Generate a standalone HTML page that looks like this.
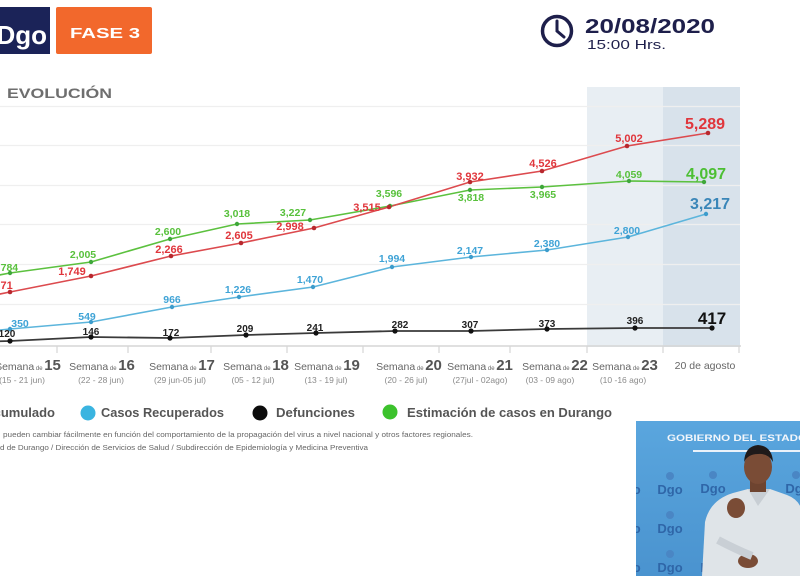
<!DOCTYPE html>
<html><head><meta charset="utf-8">
<style>
html,body{margin:0;padding:0;background:#fff;}
svg{display:block;}
text{font-family:"Liberation Sans",sans-serif;}
</style></head>
<body>
<svg width="800" height="576" viewBox="0 0 800 576" xmlns="http://www.w3.org/2000/svg">
<rect x="0" y="0" width="800" height="576" fill="#ffffff"/>

<!-- Header -->
<rect x="0" y="7" width="50" height="47" fill="#1b2358"/>
<text x="47" y="44" font-size="26" font-weight="bold" fill="#ffffff" text-anchor="end">Dgo</text>
<rect x="56" y="7" width="96" height="47" rx="2" fill="#f2682c"/>
<text x="70" y="38" font-size="15" font-weight="bold" fill="#ffffff" textLength="70" lengthAdjust="spacingAndGlyphs">FASE 3</text>

<circle cx="557" cy="31" r="14.5" fill="none" stroke="#1e1f4b" stroke-width="3.5"/>
<polyline points="557,21 557,31 564,37" fill="none" stroke="#1e1f4b" stroke-width="3" stroke-linecap="round"/>
<text x="585" y="33" font-size="20" font-weight="bold" fill="#1e1f4b" textLength="130" lengthAdjust="spacingAndGlyphs">20/08/2020</text>
<text x="587" y="49" font-size="13" fill="#1e1f4b" textLength="79" lengthAdjust="spacingAndGlyphs">15:00 Hrs.</text>

<!-- Title -->
<text x="-11" y="98" font-size="14" font-weight="bold" fill="#6e6e6e">E</text>
<text x="7" y="98" font-size="14" font-weight="bold" fill="#6e6e6e" textLength="105" lengthAdjust="spacingAndGlyphs">EVOLUCIÓN</text>

<!-- Shaded columns -->
<rect x="587" y="87" width="76" height="260" fill="#e8eef3"/>
<rect x="663" y="87" width="77" height="260" fill="#d8e2eb"/>

<!-- Gridlines -->
<g stroke="#efefef" stroke-width="1.2">
<line x1="0" y1="106.5" x2="740" y2="106.5"/>
<line x1="0" y1="145.5" x2="740" y2="145.5"/>
<line x1="0" y1="185.5" x2="740" y2="185.5"/>
<line x1="0" y1="224.5" x2="740" y2="224.5"/>
<line x1="0" y1="264.5" x2="740" y2="264.5"/>
<line x1="0" y1="304.5" x2="740" y2="304.5"/>
</g>
<line x1="0" y1="346" x2="741" y2="346" stroke="#d6d6d6" stroke-width="1.5"/>
<g stroke="#d6d6d6" stroke-width="1.2">
<line x1="57" y1="346" x2="57" y2="353"/>
<line x1="128" y1="346" x2="128" y2="353"/>
<line x1="211" y1="346" x2="211" y2="353"/>
<line x1="287" y1="346" x2="287" y2="353"/>
<line x1="363" y1="346" x2="363" y2="353"/>
<line x1="439" y1="346" x2="439" y2="353"/>
<line x1="510" y1="346" x2="510" y2="353"/>
<line x1="587" y1="346" x2="587" y2="353"/>
<line x1="663" y1="346" x2="663" y2="353"/>
<line x1="739" y1="346" x2="739" y2="353"/>
</g>

<!-- Series lines -->
<polyline fill="none" stroke="#5cc13f" stroke-width="1.6" points="-70,288 10,273 91,262 170,239 237,224 310,220 390,206 470,190 542,187 629,181 704,182"/>
<polyline fill="none" stroke="#dc4a4e" stroke-width="1.6" points="-70,308 10,292 91,276 171,256 241,243 314,228 389,207 470,182 542,171 627,146 708,133"/>
<polyline fill="none" stroke="#5cb5dc" stroke-width="1.6" points="-60,336 10,329 91,322 172,307 239,297 313,287 392,267 471,257 547,250 628,237 706,214"/>
<polyline fill="none" stroke="#3a3a3a" stroke-width="1.8" points="-70,343 10,341 91,337 170,338 246,335 316,333 395,331 471,331 547,329 635,328 712,328"/>

<!-- Points -->
<g fill="#3fa73a">
<circle cx="10" cy="273" r="2.2"/><circle cx="91" cy="262" r="2.2"/><circle cx="170" cy="239" r="2.2"/><circle cx="237" cy="224" r="2.2"/><circle cx="310" cy="220" r="2.2"/><circle cx="390" cy="206" r="2.2"/><circle cx="470" cy="190" r="2.2"/><circle cx="542" cy="187" r="2.2"/><circle cx="629" cy="181" r="2.2"/><circle cx="704" cy="182" r="2.2"/>
</g>
<g fill="#b8282e">
<circle cx="10" cy="292" r="2.3"/><circle cx="91" cy="276" r="2.3"/><circle cx="171" cy="256" r="2.3"/><circle cx="241" cy="243" r="2.3"/><circle cx="314" cy="228" r="2.3"/><circle cx="389" cy="207" r="2.3"/><circle cx="470" cy="182" r="2.3"/><circle cx="542" cy="171" r="2.3"/><circle cx="627" cy="146" r="2.3"/><circle cx="708" cy="133" r="2.3"/>
</g>
<g fill="#3d9ccc">
<circle cx="10" cy="329" r="2.2"/><circle cx="91" cy="322" r="2.2"/><circle cx="172" cy="307" r="2.2"/><circle cx="239" cy="297" r="2.2"/><circle cx="313" cy="287" r="2.2"/><circle cx="392" cy="267" r="2.2"/><circle cx="471" cy="257" r="2.2"/><circle cx="547" cy="250" r="2.2"/><circle cx="628" cy="237" r="2.2"/><circle cx="706" cy="214" r="2.2"/>
</g>
<g fill="#111">
<circle cx="10" cy="341" r="2.6"/><circle cx="91" cy="337" r="2.6"/><circle cx="170" cy="338" r="2.6"/><circle cx="246" cy="335" r="2.6"/><circle cx="316" cy="333" r="2.6"/><circle cx="395" cy="331" r="2.6"/><circle cx="471" cy="331" r="2.6"/><circle cx="547" cy="329" r="2.6"/><circle cx="635" cy="328" r="2.6"/><circle cx="712" cy="328" r="2.6"/>
</g>

<!-- Labels: red -->
<g font-size="11" font-weight="bold" fill="#e0363c" text-anchor="middle">
<text x="-1" y="289">1,771</text>
<text x="72" y="275">1,749</text>
<text x="169" y="253">2,266</text>
<text x="239" y="239">2,605</text>
<text x="290" y="230">2,998</text>
<text x="367" y="211">3,515</text>
<text x="470" y="180">3,932</text>
<text x="543" y="167">4,526</text>
<text x="629" y="142">5,002</text>
</g>
<text x="705" y="129" font-size="16" font-weight="bold" fill="#e0363c" text-anchor="middle">5,289</text>

<!-- Labels: green -->
<g font-size="10.5" font-weight="bold" fill="#58c13c" text-anchor="middle">
<text x="5" y="271">1,784</text>
<text x="83" y="258">2,005</text>
<text x="168" y="235">2,600</text>
<text x="237" y="217">3,018</text>
<text x="293" y="216">3,227</text>
<text x="389" y="197">3,596</text>
<text x="471" y="201">3,818</text>
<text x="543" y="198">3,965</text>
<text x="629" y="178">4,059</text>
</g>
<text x="706" y="179" font-size="16" font-weight="bold" fill="#4cbf33" text-anchor="middle">4,097</text>

<!-- Labels: blue -->
<g font-size="10.5" font-weight="bold" fill="#3fa3d6" text-anchor="middle">
<text x="20" y="327">350</text>
<text x="87" y="320">549</text>
<text x="172" y="303">966</text>
<text x="238" y="293">1,226</text>
<text x="310" y="283">1,470</text>
<text x="392" y="262">1,994</text>
<text x="470" y="254">2,147</text>
<text x="547" y="247">2,380</text>
<text x="627" y="234">2,800</text>
</g>
<text x="710" y="209" font-size="16" font-weight="bold" fill="#3a86b8" text-anchor="middle">3,217</text>

<!-- Labels: black -->
<g font-size="10" font-weight="bold" fill="#222" text-anchor="middle">
<text x="7" y="337">120</text>
<text x="91" y="335">146</text>
<text x="171" y="336">172</text>
<text x="245" y="332">209</text>
<text x="315" y="331">241</text>
<text x="400" y="328">282</text>
<text x="470" y="328">307</text>
<text x="547" y="327">373</text>
<text x="635" y="324">396</text>
</g>
<text x="712" y="324" font-size="17" font-weight="bold" fill="#111" text-anchor="middle">417</text>

<!-- X axis labels -->
<g fill="#666" text-anchor="middle">
<text x="28" y="370"><tspan font-size="10.5">Semana</tspan><tspan font-size="6"> de </tspan><tspan font-size="15" font-weight="bold" fill="#555">15</tspan></text>
<text x="102" y="370"><tspan font-size="10.5">Semana</tspan><tspan font-size="6"> de </tspan><tspan font-size="15" font-weight="bold" fill="#555">16</tspan></text>
<text x="182" y="370"><tspan font-size="10.5">Semana</tspan><tspan font-size="6"> de </tspan><tspan font-size="15" font-weight="bold" fill="#555">17</tspan></text>
<text x="256" y="370"><tspan font-size="10.5">Semana</tspan><tspan font-size="6"> de </tspan><tspan font-size="15" font-weight="bold" fill="#555">18</tspan></text>
<text x="327" y="370"><tspan font-size="10.5">Semana</tspan><tspan font-size="6"> de </tspan><tspan font-size="15" font-weight="bold" fill="#555">19</tspan></text>
<text x="409" y="370"><tspan font-size="10.5">Semana</tspan><tspan font-size="6"> de </tspan><tspan font-size="15" font-weight="bold" fill="#555">20</tspan></text>
<text x="480" y="370"><tspan font-size="10.5">Semana</tspan><tspan font-size="6"> de </tspan><tspan font-size="15" font-weight="bold" fill="#555">21</tspan></text>
<text x="555" y="370"><tspan font-size="10.5">Semana</tspan><tspan font-size="6"> de </tspan><tspan font-size="15" font-weight="bold" fill="#555">22</tspan></text>
<text x="625" y="370"><tspan font-size="10.5">Semana</tspan><tspan font-size="6"> de </tspan><tspan font-size="15" font-weight="bold" fill="#555">23</tspan></text>
<text x="705" y="369" font-size="10.5">20 de agosto</text>
</g>
<g font-size="8.5" fill="#8a8a8a" text-anchor="middle">
<text x="22" y="383">(15 - 21 jun)</text>
<text x="101" y="383">(22 - 28 jun)</text>
<text x="180" y="383">(29 jun-05 jul)</text>
<text x="253" y="383">(05 - 12 jul)</text>
<text x="326" y="383">(13 - 19 jul)</text>
<text x="406" y="383">(20 - 26 jul)</text>
<text x="480" y="383">(27jul - 02ago)</text>
<text x="550" y="383">(03 - 09 ago)</text>
<text x="623" y="383">(10 -16 ago)</text>
</g>

<!-- Legend -->
<g font-size="13" font-weight="bold" fill="#555">
<text x="55" y="417" text-anchor="end">Acumulado</text>
<circle cx="88" cy="413" r="7.5" fill="#3ab4e0"/>
<text x="101" y="417" textLength="123" lengthAdjust="spacingAndGlyphs">Casos Recuperados</text>
<circle cx="260" cy="413" r="7.5" fill="#0c0c0c"/>
<text x="276" y="417" textLength="79" lengthAdjust="spacingAndGlyphs">Defunciones</text>
<circle cx="390" cy="412" r="7.5" fill="#3cc22c"/>
<text x="407" y="417" textLength="205" lengthAdjust="spacingAndGlyphs">Estimación de casos en Durango</text>
</g>

<!-- Footnotes -->
<text x="3" y="437" font-size="7" fill="#666" textLength="470" lengthAdjust="spacingAndGlyphs">pueden cambiar fácilmente en función del comportamiento de la propagación del virus a nivel nacional y otros factores regionales.</text>
<text x="0" y="450" font-size="7" fill="#666" textLength="368" lengthAdjust="spacingAndGlyphs">d de Durango / Dirección de Servicios de Salud / Subdirección de Epidemiología y Medicina Preventiva</text>

<!-- Video inset -->
<defs>
<linearGradient id="vg" x1="0" y1="0" x2="0" y2="1">
<stop offset="0" stop-color="#5aa6de"/>
<stop offset="1" stop-color="#4a93cf"/>
</linearGradient>
<clipPath id="vc"><rect x="636" y="421" width="164" height="155"/></clipPath>
</defs>
<g clip-path="url(#vc)">
<rect x="636" y="421" width="164" height="155" fill="url(#vg)"/>
<text x="667" y="441" font-size="9.5" font-weight="bold" fill="#f2f6fb" textLength="140" lengthAdjust="spacingAndGlyphs">GOBIERNO DEL ESTADO</text>
<rect x="693" y="450" width="107" height="2" fill="#eaf2fa"/>
<g font-size="13" font-weight="bold" fill="#2f66a8" text-anchor="middle">
<text x="670" y="494">Dgo</text>
<text x="713" y="493">Dgo</text>
<text x="798" y="493">Dgo</text>
<text x="628" y="494">Dgo</text>
<text x="670" y="533">Dgo</text>
<text x="628" y="533">Dgo</text>
<text x="670" y="572">Dgo</text>
<text x="713" y="572">Dgo</text>
<text x="628" y="572">Dgo</text>
</g>
<g fill="#4a86c4">
<circle cx="670" cy="476" r="4"/><circle cx="713" cy="475" r="4"/><circle cx="796" cy="475" r="4"/>
<circle cx="670" cy="515" r="4"/><circle cx="670" cy="554" r="4"/><circle cx="713" cy="554" r="4"/>
</g>
<!-- person -->
<path d="M702,576 L705,522 Q710,500 733,493 L748,489 L770,489 L787,495 Q800,500 802,512 L802,576 Z" fill="#dfe4e8"/>
<path d="M748,489 L758,506 L770,489 Z" fill="#c8ced4"/>
<rect x="750" y="478" width="16" height="14" fill="#6e4430"/>
<ellipse cx="758" cy="467" rx="14" ry="17" fill="#7a4c36"/>
<path d="M744,462 Q745,446 758,445 Q772,446 773,462 Q768,453 758,454 Q748,454 744,462 Z" fill="#1f1a1a"/>
<ellipse cx="736" cy="508" rx="9" ry="10" fill="#7a4c36"/>
<ellipse cx="748" cy="561" rx="10" ry="7" fill="#7a4c36"/>
<path d="M718,540 Q735,549 752,556" stroke="#c9cfd5" stroke-width="8" fill="none"/>
</g>
</svg>
</body></html>
